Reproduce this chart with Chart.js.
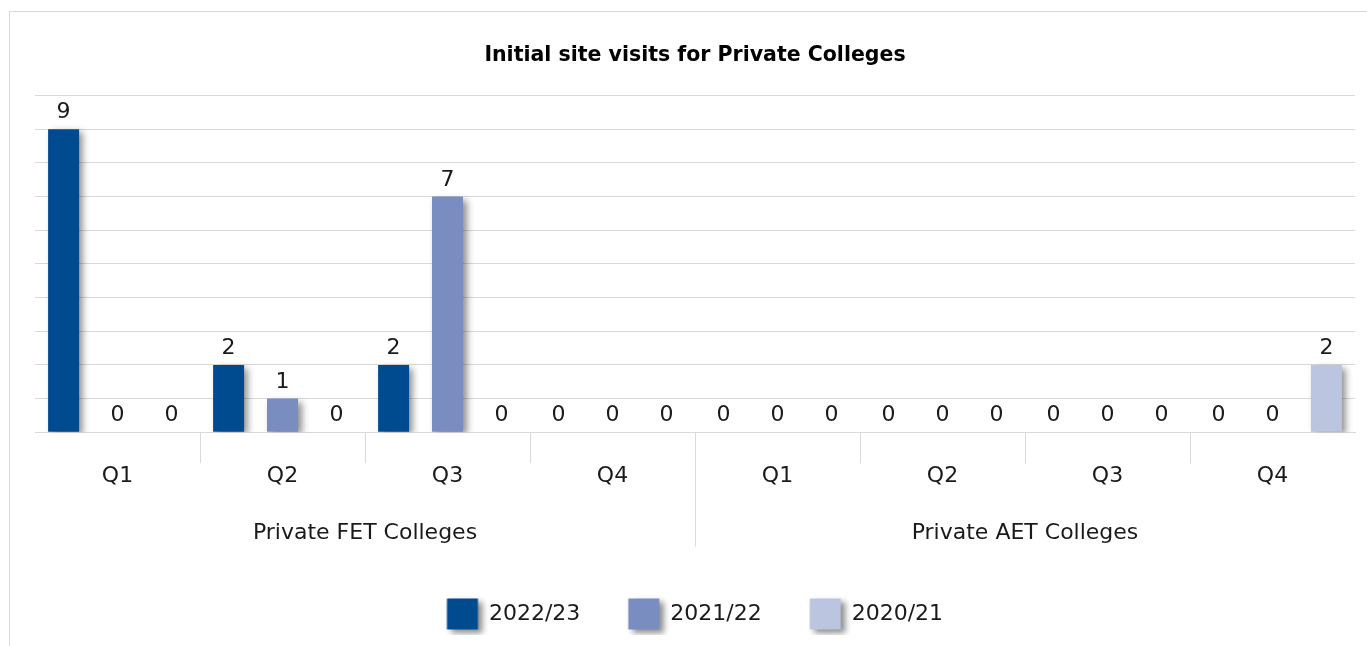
<!DOCTYPE html>
<html>
<head>
<meta charset="utf-8">
<script src="https://cdn.jsdelivr.net/npm/chart.js@4.4.0/dist/chart.umd.min.js"></script>
<style>
html,body{margin:0;padding:0;background:#fff;}
#wrap{width:1367px;height:646px;position:relative;}
</style>
</head>
<body>
<div id="wrap"><canvas id="c"></canvas></div>
<script>
// ---- data ----
const quarters = ['Q1','Q2','Q3','Q4','Q1','Q2','Q3','Q4'];
const groups = ['Private FET Colleges','Private AET Colleges'];
const seriesNames = ['2022/23','2021/22','2020/21'];
const v2022_23 = [9,2,2,0,0,0,0,0];
const v2021_22 = [0,1,7,0,0,0,0,0];
const v2020_21 = [0,0,0,0,0,0,0,2];
const yTicksMax = 10;
const chartTitle = 'Initial site visits for Private Colleges';

// ---- styles ----
const FONT = 'DejaVu Sans';
const colors = ['#004B8F','#798DC0','#BBC5E0'];
const gridColor = '#d9d9d9';
const textColor = '#1a1a1a';

Chart.defaults.font.family = FONT;
Chart.defaults.color = textColor;

function legendSwatch(color){
  const cv = document.createElement('canvas');
  cv.width = 52; cv.height = 52;
  const g = cv.getContext('2d');
  g.shadowColor = 'rgba(0,0,0,0.45)';
  g.shadowBlur = 6; g.shadowOffsetX = 4; g.shadowOffsetY = 3;
  g.fillStyle = color;
  g.fillRect(10.5, 10.5, 31, 31);
  return cv;
}
const swatches = colors.map(legendSwatch);

const shadowPlugin = {
  id: 'barShadow',
  beforeDatasetsDraw(chart){
    const ctx = chart.ctx;
    ctx.save();
    ctx.shadowColor = 'rgba(0,0,0,0.45)';
    ctx.shadowBlur = 7; ctx.shadowOffsetX = 4; ctx.shadowOffsetY = 3;
  },
  afterDatasetsDraw(chart){ chart.ctx.restore(); }
};

const valuePlugin = {
  id: 'valueLabels',
  afterDatasetsDraw(chart){
    const ctx = chart.ctx;
    ctx.save();
    ctx.font = '22px "' + FONT + '"';
    ctx.fillStyle = textColor;
    ctx.textAlign = 'center';
    ctx.textBaseline = 'alphabetic';
    chart.data.datasets.forEach((ds, i) => {
      const meta = chart.getDatasetMeta(i);
      meta.data.forEach((el, j) => {
        ctx.fillText(String(ds.data[j]), el.x, el.y - 11);
      });
    });
    ctx.restore();
  }
};

const framePlugin = {
  id: 'frame',
  beforeDraw(chart){
    const ctx = chart.ctx;
    ctx.save();
    ctx.strokeStyle = gridColor; ctx.lineWidth = 1;
    ctx.beginPath();
    ctx.moveTo(9.5, chart.height);
    ctx.lineTo(9.5, 11.5);
    ctx.lineTo(chart.width, 11.5);
    ctx.stroke();
    ctx.restore();
  },
  afterDraw(chart){
    const x = chart.scales.x;
    const px = Math.round((x.getPixelForValue(3) + x.getPixelForValue(4)) / 2) + 0.5;
    const ctx = chart.ctx;
    ctx.save();
    ctx.strokeStyle = gridColor; ctx.lineWidth = 1;
    ctx.beginPath();
    ctx.moveTo(px, chart.chartArea.bottom);
    ctx.lineTo(px, x.bottom + 57);
    ctx.stroke();
    ctx.restore();
  }
};

new Chart(document.getElementById('c'), {
  type: 'bar',
  data: {
    labels: quarters,
    datasets: [
      {label: seriesNames[0], data: v2022_23, backgroundColor: colors[0]},
      {label: seriesNames[1], data: v2021_22, backgroundColor: colors[1]},
      {label: seriesNames[2], data: v2020_21, backgroundColor: colors[2]}
    ]
  },
  options: {
    responsive: true,
    maintainAspectRatio: false,
    animation: false,
    datasets: { bar: { categoryPercentage: 0.98, barPercentage: 0.575 } },
    layout: { padding: { left: 35, right: 12, top: 0, bottom: 11 } },
    scales: {
      x: {
        type: 'category',
        position: 'bottom',
        offset: true,
        grid: {
          offset: true,
          drawOnChartArea: false,
          drawTicks: true,
          tickLength: 31,
          color: (c) => (c.index === undefined || c.index === 0) ? 'rgba(0,0,0,0)' : gridColor
        },
        border: { display: true, color: gridColor },
        ticks: { padding: 0, font: { size: 22 }, color: textColor, autoSkip: false, maxRotation: 0 }
      },
      group: {
        type: 'category',
        labels: groups,
        position: 'bottom',
        offset: true,
        grid: { display: false, drawTicks: false },
        border: { display: false },
        ticks: { padding: 30, font: { size: 22 }, color: textColor, autoSkip: false, maxRotation: 0 },
        afterFit(s){ s.height -= 21; }
      },
      y: {
        min: 0, max: yTicksMax,
        ticks: { display: false, stepSize: 1 },
        grid: { color: gridColor, drawTicks: false },
        border: { display: false }
      }
    },
    plugins: {
      title: {
        display: true,
        text: chartTitle,
        color: '#000',
        font: { size: 20.5, weight: 'bold' },
        padding: { top: 43, bottom: 28 }
      },
      legend: {
        position: 'bottom',
        labels: {
          usePointStyle: true,
          pointStyleWidth: 31,
          font: { size: 22 },
          color: textColor,
          padding: 48,
          generateLabels(chart){
            const items = Chart.defaults.plugins.legend.labels.generateLabels(chart);
            items.forEach((it, i) => { it.pointStyle = swatches[i]; });
            return items;
          }
        }
      },
      tooltip: { enabled: false }
    }
  },
  plugins: [framePlugin, shadowPlugin, valuePlugin]
});
</script>
</body>
</html>
